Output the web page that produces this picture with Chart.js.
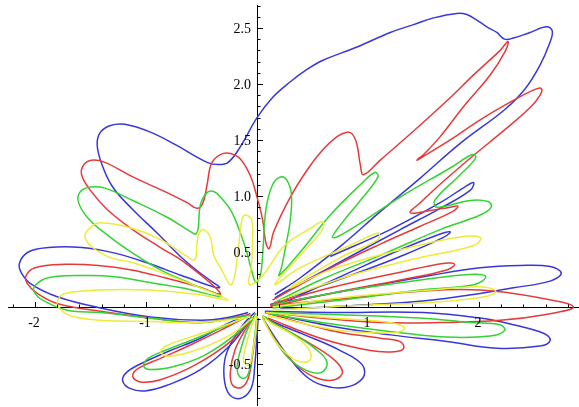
<!DOCTYPE html>
<html>
<head>
<meta charset="utf-8">
<script src="https://cdn.jsdelivr.net/npm/chart.js@4/dist/chart.umd.min.js"></script>
<style>
  html, body { margin: 0; padding: 0; background: #fff; }
  #wrap { width: 579px; height: 407px; }
</style>
</head>
<body>
<div id="wrap"><canvas id="c" width="579" height="407"></canvas></div>
<script>
// Axis labels
const xTickLabels = [-2, -1, 1, 2];
const yTickLabels = [-0.5, 0.5, 1.0, 1.5, 2.0, 2.5];

// Curve strokes, one list of [x, y] points per stroke
const blueStrokes = [
  [[-0.08,-0.04],[-0.29,-0.09],[-0.51,-0.11],[-0.96,-0.08],[-1.41,0.00],[-1.80,0.10],[-2.03,0.21],[-2.12,0.31],[-2.14,0.40],[-2.06,0.50],[-1.88,0.54],[-1.58,0.54],[-1.28,0.49],[-0.98,0.40],[-0.68,0.29],[-0.34,0.18],[-0.51,0.31],[-0.69,0.46],[-0.90,0.67],[-1.12,0.88],[-1.30,1.08],[-1.40,1.29],[-1.44,1.46],[-1.41,1.57],[-1.32,1.63],[-1.19,1.64],[-0.96,1.57],[-0.74,1.46],[-0.45,1.30],[-0.35,1.28],[-0.26,1.30],[-0.15,1.44],[0,1.70],[0.14,1.88],[0.30,2.02],[0.45,2.13],[0.59,2.21],[0.90,2.33],[1.20,2.46],[1.41,2.53],[1.59,2.59],[1.80,2.63],[1.89,2.62],[1.98,2.57],[2.07,2.51],[2.16,2.46],[2.23,2.40],[2.31,2.41],[2.46,2.46],[2.61,2.51],[2.66,2.47],[2.63,2.35],[2.55,2.17],[2.41,1.95],[2.23,1.77],[1.83,1.47],[1.47,1.16],[1.11,0.86],[0.75,0.55],[0.39,0.27],[0.16,0.12]],
  [[0.66,0.46],[1.20,0.70],[1.65,0.94],[1.87,1.08],[1.95,1.12],[1.92,1.05],[1.65,0.89],[1.29,0.70],[0.84,0.46],[0.39,0.22],[0.16,0.09]],
  [[0.25,0.05],[0.84,0.32],[1.29,0.52],[1.65,0.66],[1.74,0.68],[1.68,0.63],[1.29,0.46],[0.84,0.29],[0.39,0.13],[0.12,0.03]],
  [[0.12,0.03],[0.84,0.16],[1.56,0.29],[2.01,0.36],[2.37,0.38],[2.64,0.37],[2.74,0.31],[2.64,0.24],[2.31,0.18],[2.01,0.13],[1.56,0.07],[0.84,0.02],[0.21,-0.01]],
  [[0.07,-0.03],[0.66,-0.04],[1.50,-0.04],[2.01,-0.09],[2.31,-0.15],[2.59,-0.23],[2.64,-0.29],[2.55,-0.34],[2.16,-0.36],[1.71,-0.30],[1.20,-0.24],[0.66,-0.16],[0.12,-0.05]],
  [[0.05,-0.09],[0.25,-0.39],[0.43,-0.60],[0.59,-0.69],[0.79,-0.71],[0.95,-0.63],[0.95,-0.51],[0.75,-0.38],[0.43,-0.24],[0.16,-0.13],[0.05,-0.07]],
  [[-0.02,-0.04],[-0.11,-0.13],[-0.22,-0.29],[-0.29,-0.46],[-0.29,-0.67],[-0.23,-0.79],[-0.13,-0.80],[-0.05,-0.71],[-0.02,-0.51],[0,-0.24],[0.01,-0.09]],
  [[-0.06,-0.05],[-0.29,-0.15],[-0.51,-0.27],[-0.78,-0.38],[-1.01,-0.48],[-1.17,-0.57],[-1.21,-0.65],[-1.14,-0.72],[-1.01,-0.74],[-0.81,-0.69],[-0.51,-0.55],[-0.24,-0.33],[-0.05,-0.09]]
];

const redStrokes = [
  [[-0.08,-0.06],[-0.51,-0.13],[-0.96,-0.09],[-1.41,-0.03],[-1.80,0.04],[-1.98,0.13],[-2.07,0.22],[-2.08,0.29],[-2.00,0.36],[-1.73,0.39],[-1.43,0.38],[-1.13,0.34],[-0.83,0.27],[-0.53,0.19],[-0.33,0.13],[-0.63,0.39],[-0.87,0.54],[-1.12,0.70],[-1.35,0.88],[-1.50,1.05],[-1.58,1.19],[-1.56,1.28],[-1.49,1.32],[-1.37,1.30],[-1.12,1.17],[-0.81,1.03],[-0.63,0.94],[-0.54,0.89],[-0.49,0.93],[-0.45,1.10],[-0.41,1.29],[-0.33,1.37],[-0.24,1.38],[-0.15,1.33],[-0.06,1.18],[0,0.99],[0.05,0.79],[0.08,0.58],[0.11,0.53],[0.15,0.68],[0.30,0.99],[0.45,1.23],[0.59,1.41],[0.72,1.53],[0.81,1.57],[0.86,1.55],[0.90,1.46],[0.93,1.28],[0.96,1.19],[1.11,1.32],[1.41,1.58],[1.71,1.85],[1.96,2.09],[2.19,2.30],[2.26,2.38],[2.24,2.30],[2.10,2.08],[1.87,1.81],[1.65,1.53],[1.51,1.38],[1.44,1.32],[1.51,1.36],[1.74,1.50],[2.01,1.68],[2.32,1.86],[2.50,1.95],[2.56,1.96],[2.55,1.90],[2.46,1.79],[2.23,1.59],[1.96,1.37],[1.69,1.14],[1.47,0.94],[1.38,0.85],[1.56,0.87],[1.74,0.90],[1.81,0.91],[1.76,0.86],[1.47,0.73],[1.11,0.57],[0.75,0.40],[0.39,0.21],[0.14,0.07]],
  [[0.12,0.03],[0.66,0.18],[1.29,0.32],[1.69,0.40],[1.78,0.39],[1.71,0.34],[1.29,0.25],[0.66,0.13],[0.12,0.01]],
  [[0.12,0.02],[0.84,0.09],[1.47,0.15],[2.01,0.16],[2.55,0.09],[2.85,0.01],[2.59,-0.06],[2.19,-0.11],[1.65,-0.13],[1.11,-0.13],[0.57,-0.09],[0.12,-0.04]],
  [[0.07,-0.04],[0.66,-0.20],[1.11,-0.27],[1.29,-0.30],[1.32,-0.36],[1.24,-0.39],[1.02,-0.38],[0.57,-0.27],[0.10,-0.09]],
  [[0.05,-0.09],[0.23,-0.38],[0.39,-0.54],[0.55,-0.63],[0.70,-0.64],[0.77,-0.57],[0.68,-0.45],[0.43,-0.29],[0.16,-0.14],[0.05,-0.08]],
  [[-0.01,-0.05],[-0.11,-0.20],[-0.20,-0.38],[-0.24,-0.57],[-0.22,-0.69],[-0.14,-0.71],[-0.08,-0.63],[-0.04,-0.42],[-0.01,-0.20],[0,-0.07]],
  [[-0.06,-0.06],[-0.33,-0.20],[-0.60,-0.33],[-0.87,-0.45],[-1.07,-0.54],[-1.12,-0.61],[-1.05,-0.66],[-0.87,-0.64],[-0.56,-0.51],[-0.24,-0.30],[-0.05,-0.09]]
];

const greenStrokes = [
  [[-0.08,-0.07],[-0.51,-0.13],[-0.96,-0.09],[-1.41,-0.04],[-1.71,-0.02],[-1.93,0.07],[-2.01,0.15],[-1.99,0.21],[-1.88,0.27],[-1.58,0.29],[-1.28,0.28],[-0.98,0.23],[-0.68,0.18],[-0.32,0.10],[-0.60,0.22],[-0.87,0.34],[-1.12,0.49],[-1.32,0.63],[-1.52,0.80],[-1.61,0.95],[-1.59,1.04],[-1.50,1.08],[-1.37,1.07],[-1.12,0.96],[-0.81,0.81],[-0.58,0.67],[-0.55,0.66],[-0.53,0.71],[-0.51,0.92],[-0.45,1.03],[-0.39,1.04],[-0.32,0.98],[-0.23,0.86],[-0.15,0.67],[-0.09,0.49],[-0.05,0.34],[-0.01,0.23],[0.03,0.29],[0.05,0.47],[0.08,0.88],[0.14,1.10],[0.21,1.17],[0.27,1.14],[0.31,1.01],[0.30,0.79],[0.26,0.56],[0.22,0.36],[0.20,0.29],[0.39,0.50],[0.66,0.83],[0.93,1.10],[1.06,1.21],[1.09,1.17],[0.93,0.96],[0.75,0.74],[0.68,0.63],[0.79,0.67],[1.29,0.99],[1.74,1.25],[1.94,1.37],[1.97,1.34],[1.83,1.19],[1.60,0.96],[1.62,0.90],[1.92,0.96],[2.08,0.95],[2.11,0.90],[2.01,0.83],[1.65,0.70],[1.11,0.47],[0.57,0.25],[0.16,0.05]],
  [[0.14,0.03],[0.84,0.16],[1.47,0.25],[1.92,0.30],[2.06,0.28],[1.96,0.21],[1.47,0.16],[0.84,0.08],[0.14,0.00]],
  [[0.09,-0.04],[0.75,-0.06],[1.47,-0.09],[1.92,-0.13],[2.19,-0.15],[2.23,-0.20],[2.10,-0.25],[1.71,-0.26],[1.29,-0.22],[0.66,-0.14],[0.10,-0.05]],
  [[0.05,-0.09],[0.19,-0.33],[0.32,-0.48],[0.48,-0.57],[0.59,-0.57],[0.63,-0.48],[0.52,-0.36],[0.34,-0.24],[0.14,-0.13],[0.05,-0.07]],
  [[-0.01,-0.05],[-0.09,-0.20],[-0.15,-0.38],[-0.18,-0.53],[-0.15,-0.62],[-0.09,-0.61],[-0.05,-0.46],[-0.02,-0.24],[0,-0.07]],
  [[-0.06,-0.06],[-0.33,-0.18],[-0.60,-0.29],[-0.83,-0.38],[-0.98,-0.45],[-1.02,-0.52],[-0.95,-0.55],[-0.74,-0.52],[-0.47,-0.42],[-0.20,-0.24],[-0.04,-0.08]]
];

const yellowStrokes = [
  [[-0.06,-0.08],[-0.51,-0.13],[-0.96,-0.12],[-1.41,-0.11],[-1.68,-0.07],[-1.79,0.01],[-1.79,0.08],[-1.73,0.13],[-1.43,0.16],[-0.98,0.16],[-0.53,0.12],[-0.26,0.07],[-0.51,0.18],[-0.87,0.32],[-1.14,0.41],[-1.32,0.45],[-1.48,0.54],[-1.55,0.64],[-1.50,0.72],[-1.41,0.76],[-1.12,0.71],[-0.87,0.61],[-0.63,0.46],[-0.56,0.43],[-0.54,0.58],[-0.52,0.67],[-0.48,0.70],[-0.42,0.63],[-0.39,0.47],[-0.33,0.36],[-0.23,0.21],[-0.17,0.52],[-0.14,0.77],[-0.11,0.83],[-0.05,0.79],[-0.04,0.61],[-0.05,0.38],[-0.07,0.21],[0.05,0.29],[0.25,0.56],[0.48,0.71],[0.59,0.77],[0.59,0.70],[0.39,0.47],[0.16,0.21],[0.39,0.36],[0.84,0.56],[1.09,0.67],[1.09,0.61],[0.75,0.45],[0.30,0.18],[0.66,0.34],[1.29,0.52],[1.80,0.63],[2.01,0.63],[1.96,0.56],[1.47,0.45],[0.84,0.29],[0.21,0.07]],
  [[0.14,0.01],[0.84,0.10],[1.56,0.16],[2.01,0.19],[2.15,0.15],[2.05,0.10],[1.56,0.05],[0.84,0.02],[0.14,-0.02]],
  [[0.08,-0.04],[0.66,-0.09],[1.20,-0.13],[1.33,-0.18],[1.24,-0.22],[0.75,-0.20],[0.10,-0.07]],
  [[0.05,-0.09],[0.16,-0.29],[0.28,-0.42],[0.39,-0.48],[0.48,-0.46],[0.46,-0.36],[0.32,-0.24],[0.12,-0.13],[0.05,-0.07]],
  [[-0.01,-0.06],[-0.06,-0.20],[-0.11,-0.38],[-0.12,-0.48],[-0.07,-0.51],[-0.04,-0.39],[-0.01,-0.20],[0,-0.07]],
  [[-0.06,-0.07],[-0.33,-0.17],[-0.60,-0.26],[-0.80,-0.33],[-0.87,-0.39],[-0.80,-0.43],[-0.56,-0.38],[-0.24,-0.24],[-0.04,-0.09]]
];

const seriesColors = { blue: '#3838d8', red: '#e63a3a', green: '#34d334', yellow: '#ecec38' };

function strokesToDatasets(strokes, color, order) {
  return strokes.map(s => ({
    data: s.map(p => ({ x: p[0], y: p[1] })),
    showLine: true,
    borderColor: color,
    borderWidth: 1.5,
    pointRadius: 0,
    pointHoverRadius: 0,
    fill: false,
    tension: 0.4,
    order: order
  }));
}

const datasets = [].concat(
  strokesToDatasets(blueStrokes, seriesColors.blue, 4),
  strokesToDatasets(redStrokes, seriesColors.red, 3),
  strokesToDatasets(greenStrokes, seriesColors.green, 2),
  strokesToDatasets(yellowStrokes, seriesColors.yellow, 1)
);

const labelFont = "14px 'Liberation Serif', 'DejaVu Serif', serif";

// Inward tick marks and tick labels for the two crossing axes
const axisDecor = {
  id: 'axisDecor',
  afterDraw(chart) {
    const { ctx, scales: { x, y } } = chart;
    const x0 = x.getPixelForValue(0);
    const y0 = y.getPixelForValue(0);
    ctx.save();
    ctx.strokeStyle = '#000';
    ctx.lineWidth = 1;
    ctx.beginPath();
    for (let i = -11; i <= 14; i++) {
      if (i === 0) continue;
      const px = Math.round(x.getPixelForValue(i / 5)) + 0.5;
      const len = (i % 5 === 0) ? 6 : 3.5;
      ctx.moveTo(px, y0);
      ctx.lineTo(px, y0 - len);
    }
    for (let j = -8; j <= 27; j++) {
      if (j === 0) continue;
      const py = Math.round(y.getPixelForValue(j / 10)) + 0.5;
      const len = (j % 5 === 0) ? 6 : 3.5;
      ctx.moveTo(x0, py);
      ctx.lineTo(x0 + len, py);
    }
    ctx.stroke();

    ctx.fillStyle = '#000';
    ctx.font = labelFont;
    ctx.textAlign = 'center';
    ctx.textBaseline = 'top';
    xTickLabels.forEach(v => {
      ctx.fillText(String(v), x.getPixelForValue(v) - 1, y0 + 8);
    });
    ctx.textAlign = 'right';
    ctx.textBaseline = 'middle';
    yTickLabels.forEach(v => {
      ctx.fillText(v.toFixed(1), x0 - 6, y.getPixelForValue(v) + 1);
    });
    ctx.restore();
  }
};

new Chart(document.getElementById('c'), {
  type: 'scatter',
  data: { datasets },
  options: {
    responsive: false,
    animation: false,
    events: [],
    layout: { padding: { left: 8, top: 5, right: 0, bottom: 2 } },
    plugins: { legend: { display: false }, tooltip: { enabled: false } },
    scales: {
      x: {
        type: 'linear',
        min: -2.243,
        max: 2.9,
        position: { y: 0 },
        grid: { display: true, drawOnChartArea: false, drawTicks: false },
        border: { display: true, color: '#000', width: 1 },
        ticks: { display: false }
      },
      y: {
        type: 'linear',
        min: -0.866,
        max: 2.705,
        position: { x: 0 },
        grid: { display: true, drawOnChartArea: false, drawTicks: false },
        border: { display: true, color: '#000', width: 1 },
        ticks: { display: false }
      }
    }
  },
  plugins: [axisDecor]
});
</script>
</body>
</html>
